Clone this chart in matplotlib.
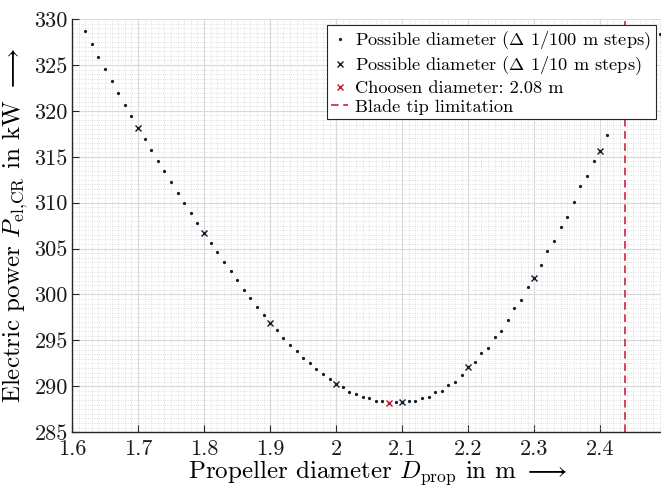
import numpy as np
import matplotlib
matplotlib.use('Agg')
import matplotlib.pyplot as plt
from matplotlib.ticker import MultipleLocator, FuncFormatter

plt.rcParams['font.family'] = 'cmr10'
plt.rcParams['mathtext.fontset'] = 'cm'
plt.rcParams['axes.formatter.use_mathtext'] = True

# диаметр с шагом 1/100 м
d_fine = [1.62, 1.63, 1.64, 1.65, 1.66, 1.67, 1.68, 1.69, 1.70, 1.71,
          1.72, 1.73, 1.74, 1.75, 1.76, 1.77, 1.78, 1.79, 1.80, 1.81,
          1.82, 1.83, 1.84, 1.85, 1.86, 1.87, 1.88, 1.89, 1.90, 1.91,
          1.92, 1.93, 1.94, 1.95, 1.96, 1.97, 1.98, 1.99, 2.00, 2.01,
          2.02, 2.03, 2.04, 2.05, 2.06, 2.07, 2.08, 2.09, 2.10, 2.11,
          2.12, 2.13, 2.14, 2.15, 2.16, 2.17, 2.18, 2.19, 2.20, 2.21,
          2.22, 2.23, 2.24, 2.25, 2.26, 2.27, 2.28, 2.29, 2.30, 2.31,
          2.32, 2.33, 2.34, 2.35, 2.36, 2.37, 2.38, 2.39, 2.40, 2.41,
          2.49]
p_fine = [328.66, 327.24, 325.88, 324.57, 323.26, 321.95, 320.69, 319.41, 318.13, 316.93,
          315.73, 314.57, 313.41, 312.28, 311.11, 309.99, 308.90, 307.81, 306.69, 305.66,
          304.60, 303.57, 302.55, 301.53, 300.54, 299.62, 298.67, 297.79, 296.92, 296.09,
          295.27, 294.48, 293.79, 293.07, 292.52, 291.83, 291.35, 290.80, 290.27, 289.93,
          289.40, 289.17, 288.81, 288.68, 288.40, 288.41, 288.22, 288.33, 288.26, 288.44,
          288.44, 288.77, 288.84, 289.35, 289.53, 290.19, 290.52, 291.27, 292.08, 292.66,
          293.61, 294.19, 295.36, 296.05, 297.25, 298.52, 299.40, 300.78, 301.76, 303.22,
          304.71, 305.80, 307.37, 308.46, 310.10, 311.77, 312.94, 314.50, 315.59, 317.41,
          328.33]

# шаг 1/10 м
d_coarse = [1.7, 1.8, 1.9, 2.0, 2.1, 2.2, 2.3, 2.4]
p_coarse = [318.13, 306.69, 296.92, 290.27, 288.26, 292.08, 301.76, 315.59]

# выбранный диаметр и ограничение
d_chosen = [2.08]
p_chosen = [288.22]
d_tip = 2.437

dark = '#0f1e2d'
red = '#c8102e'

fig = plt.figure(figsize=(6.61, 4.90), dpi=100)
ax = fig.add_axes([0.109, 0.118, 0.891, 0.843])

ax.plot(d_fine, p_fine, 'o', color=dark, markersize=1.3, linestyle='none',
        label=r'Possible diameter ($\Delta$ 1/100 m steps)')
ax.plot(d_coarse, p_coarse, 'x', color=dark, markersize=4.5, mew=1.0, linestyle='none',
        label=r'Possible diameter ($\Delta$ 1/10 m steps)')
ax.plot(d_chosen, p_chosen, 'x', color=red, markersize=4.5, mew=1.0, linestyle='none',
        label='Choosen diameter: 2.08 m')
ax.axvline(d_tip, color=red, linestyle=(0, (5, 3)), linewidth=1.1,
           label='Blade tip limitation')

ax.set_xlim(1.6, 2.492)
ax.set_ylim(285, 330)
ax.xaxis.set_major_locator(MultipleLocator(0.1))
ax.xaxis.set_minor_locator(MultipleLocator(0.01))
ax.yaxis.set_major_locator(MultipleLocator(5))
ax.yaxis.set_minor_locator(MultipleLocator(0.5))
ax.xaxis.set_major_formatter(FuncFormatter(lambda v, pos: f'{v:g}'))
ax.yaxis.set_major_formatter(FuncFormatter(lambda v, pos: f'{v:g}'))

# сетка как в MATLAB
ax.grid(True, which='major', color='#d9d9d9', linewidth=0.8)
ax.grid(True, which='minor', color='#d6d6d6', linestyle=':', linewidth=0.6)
ax.set_axisbelow(True)

ax.spines['top'].set_visible(False)
ax.spines['right'].set_visible(False)
for s in ['left', 'bottom']:
    ax.spines[s].set_color('#262626')
    ax.spines[s].set_linewidth(1.0)
ax.tick_params(which='major', direction='in', length=5, width=0.8, colors='#262626',
               labelsize=16, labelcolor='#1a1a1a')
ax.tick_params(axis='x', which='major', pad=5)
ax.tick_params(axis='y', which='major', pad=3)
ax.tick_params(which='minor', length=0)

ax.set_xlabel(r'Propeller diameter $D_{\mathrm{prop}}$ in m $\longrightarrow$', fontsize=18)
ax.xaxis.set_label_coords(0.52, -0.062)
ax.set_ylabel(r'Electric power $P_{\mathrm{el{,}CR}}$ in kW $\longrightarrow$', fontsize=18,
              labelpad=3)

leg = ax.legend(loc='upper right', fontsize=13.2, fancybox=False, framealpha=1,
                edgecolor='#262626', borderaxespad=0.3, handlelength=0.9,
                handletextpad=0.4, borderpad=0.25, labelspacing=0.15)
leg.get_frame().set_linewidth(0.8)

plt.savefig('out.png', dpi=100)
